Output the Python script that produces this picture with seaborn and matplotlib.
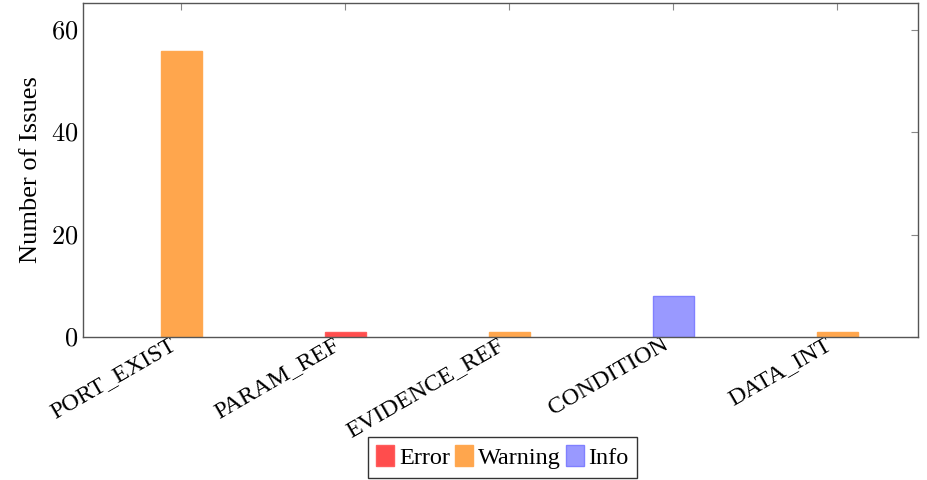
import pandas as pd
import matplotlib.pyplot as plt
import matplotlib.transforms as mtransforms
import seaborn as sns
from matplotlib.patches import Patch

# Validation issues per check, split by severity
checks = ["PORT_EXIST", "PARAM_REF", "EVIDENCE_REF", "CONDITION", "DATA_INT"]
severities = ["Error", "Warning", "Info"]
error_counts = [0, 1, 0, 0, 0]
warning_counts = [56, 0, 1, 0, 1]
info_counts = [0, 0, 0, 8, 0]

fills = {"Error": "#ff4d4d", "Warning": "#ffa64d", "Info": "#9999ff"}
edges = {"Error": "#ff5c5c", "Warning": "#ffa850", "Info": "#8080ff"}

rows = []
for sev, vals in zip(severities, [error_counts, warning_counts, info_counts]):
    for chk, v in zip(checks, vals):
        if v > 0:
            rows.append({"check": chk, "severity": sev, "count": v})
df = pd.DataFrame(rows)

sns.set_style("white")
FONT = "Liberation Serif"
plt.rcParams["font.family"] = FONT
plt.rcParams["mathtext.fontset"] = "cm"
plt.rcParams["text.color"] = "black"
plt.rcParams["axes.labelcolor"] = "black"
plt.rcParams["xtick.labelcolor"] = "black"
plt.rcParams["ytick.labelcolor"] = "black"

fig = plt.figure(figsize=(9.28, 4.8), dpi=100)
ax = fig.add_axes([0.0894, 0.298, 0.9, 0.6958])

sns.barplot(data=df, x="check", y="count", hue="severity", order=checks,
            hue_order=severities, palette=fills, dodge=False, width=0.25,
            saturation=1, legend=False, ax=ax)

# outline each bar in its series colour
for sev, cont in zip(df["severity"].unique(), ax.containers):
    for bar in cont:
        bar.set_edgecolor(edges[sev])
        bar.set_linewidth(1.0)

ax.set_xlim(-0.598, 4.494)
ax.set_ylim(0, 65.3)
ax.tick_params(direction="in", top=True, right=True, length=5, width=0.8,
               color="#888888")
ax.tick_params(axis="x", pad=3)
ax.set_yticks([0, 20, 40, 60])
ax.set_yticklabels([f"${v}$" for v in [0, 20, 40, 60]], fontsize=19)
ax.set_xticks(range(len(checks)))
ax.set_xticklabels(checks, rotation=30, ha="right", va="center_baseline",
                   rotation_mode="anchor", fontsize=17.5, family=FONT)
# nudge the rotated labels a little to the left, like pgfplots anchor=east
shift = mtransforms.ScaledTranslation(-8 / 100, 0, fig.dpi_scale_trans)
for lbl in ax.get_xticklabels():
    lbl.set_transform(lbl.get_transform() + shift)
ax.set_xlabel("")
ax.set_ylabel("Number of Issues", fontsize=19, labelpad=6, family=FONT)

for s in ax.spines.values():
    s.set_color("#555555")
    s.set_linewidth(1.0)

handles = [Patch(facecolor=fills[s], edgecolor=edges[s], label=s) for s in severities]
leg = fig.legend(handles=handles, loc="upper center", bbox_to_anchor=(0.5415, 0.0896),
                 ncol=3, frameon=True, fancybox=False,
                 prop={"family": FONT, "size": 17.5},
                 handlelength=0.74, handleheight=0.93, handletextpad=0.2,
                 columnspacing=0.2, borderpad=0.35, borderaxespad=0)
leg.get_frame().set_edgecolor("black")
leg.get_frame().set_linewidth(1.0)

fig.savefig("out.png", dpi=100)
